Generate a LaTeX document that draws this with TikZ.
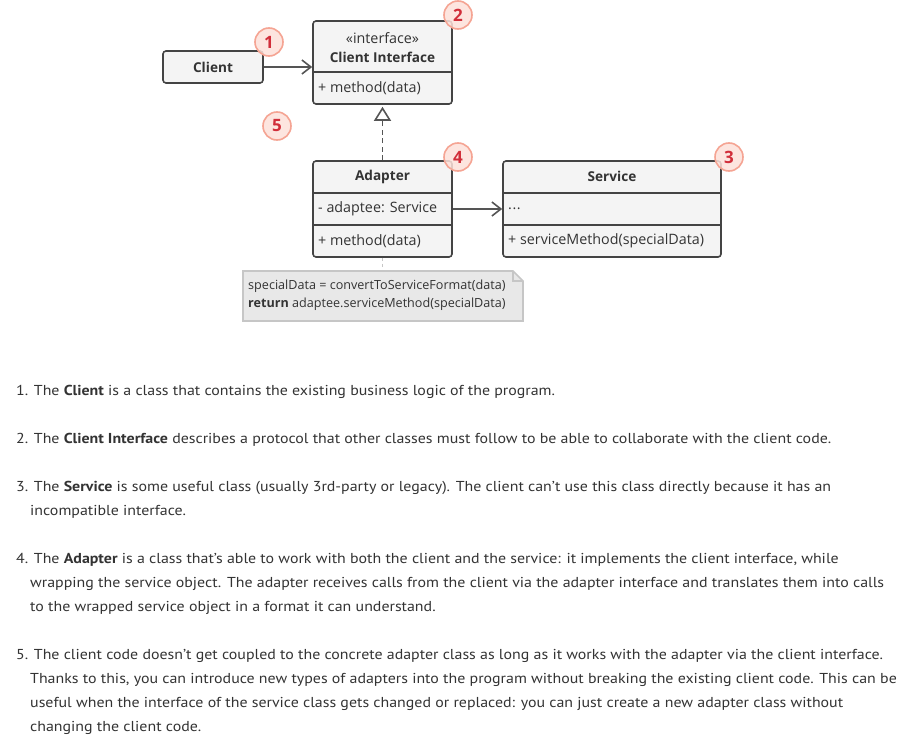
\documentclass[tikz,border=0pt]{standalone}
\usepackage{fontspec}
\setmainfont[FakeStretch=1.105]{PT Sans}
\newfontfamily\dfont{Open Sans}
\usetikzlibrary{arrows.meta}
\definecolor{bord}{HTML}{444444}
\definecolor{boxfill}{HTML}{F4F4F4}
\definecolor{txt}{HTML}{333333}
\definecolor{lnk}{HTML}{555555}
\definecolor{badgefill}{HTML}{FDE1DA}
\definecolor{badgeline}{HTML}{F5A493}
\definecolor{badgetxt}{HTML}{D12E3A}
\definecolor{notefill}{HTML}{E8E8E8}
\definecolor{noteline}{HTML}{C6C6C6}
\tikzset{
  box/.style={draw=bord, line width=1.6pt, fill=boxfill, rounded corners=3pt, inner sep=0pt},
  divider/.style={draw=bord, line width=1.6pt},
  lbl/.style={font=\dfont\fontsize{14.3}{16}\selectfont, text=txt, inner sep=0pt},
  lblB/.style={lbl, font=\dfont\bfseries\fontsize{13.6}{16}\selectfont},
  lblL/.style={lbl, anchor=west},
  assoc/.style={draw=lnk, line width=1.6pt, -{Straight Barb[length=9pt,width=14pt,line width=1.6pt]}},
  realize/.style={draw=lnk, line width=1.6pt, dash pattern=on 5pt off 3.5pt, -{Triangle[open,length=14pt,width=17pt,line width=1.6pt]}, shorten >=2pt},
  notelink/.style={draw=noteline, line width=1.6pt, dash pattern=on 3pt off 3pt},
  badge/.style={circle, draw=badgeline, line width=1.6pt, fill=badgefill, fill opacity=0.85, text opacity=1, minimum size=28pt, inner sep=0pt, text=badgetxt, font=\dfont\bfseries\fontsize{17}{18}\selectfont},
  para/.style={anchor=base west, inner sep=0pt, text=txt, font=\fontsize{14.4}{17}\selectfont},
}
\begin{document}
\begin{tikzpicture}[x=1pt,y=-1pt]
\useasboundingbox[fill=white] (0,0) rectangle (906,750);

% Client
\node[box, minimum width=100pt, minimum height=32pt] (client) at (213,67) {};
\node[lblB] (clientT) at (213,67) {Client};

% Client Interface
\node[box, minimum width=139pt, minimum height=83pt] (ci) at (382.5,62.5) {};
\node[lbl] (ciS) at (382.5,38) {«interface»};
\node[lblB] (ciN) at (382.5,57) {Client Interface};
\draw[divider] (313,72) -- (452,72);
\node[lblL] (ciM) at (318,88) {+ method(data)};

% Adapter
\node[box, minimum width=139pt, minimum height=96pt] (ad) at (382.5,209) {};
\node[lblB] (adN) at (382.5,176.5) {Adapter};
\draw[divider] (313,193) -- (452,193);
\draw[divider] (313,225) -- (452,225);
\node[lblL] (adF) at (318,209) {- adaptee: Service};
\node[lblL] (adM) at (318,241) {+ method(data)};

% Service
\node[box, minimum width=218pt, minimum height=96pt] (sv) at (612,209) {};
\node[lblB] (svN) at (612,176.5) {Service};
\draw[divider] (503,193) -- (721,193);
\draw[divider] (503,225) -- (721,225);
\node[lblL] (svF) at (508,209) {.\kern0.6pt.\kern0.6pt.};
\node[lblL] (svM) at (508,241) {+ serviceMethod(specialData)};

% Note
\path[fill=notefill, draw=noteline, line width=1.6pt]
  (243,271) -- (513,271) -- (523,281) -- (523,321) -- (243,321) -- cycle;
\draw[draw=noteline, line width=1.2pt] (513,271) -- (513,281) -- (523,281);
\node[anchor=north west, inner sep=0pt, align=left, text=txt, font=\dfont\fontsize{12.6}{18}\selectfont] (note) at (248,280)
  {specialData = convertToServiceFormat(data)\\\textbf{return} adaptee.serviceMethod(specialData)};
\coordinate (noteTop) at (382.5,271);

% connectors
\draw[assoc] (client.east) -- (client.east -| ci.west);
\draw[assoc] (adF.east -| ad.east) -- (adF.east -| sv.west);
\draw[realize] (ad.north) -- (ci.south);
\draw[notelink] (ad.south) -- (noteTop);

% badges
\node[badge] (b1) at (269,42) {1};
\node[badge] (b2) at (458,15) {2};
\node[badge] (b5) at (277,126) {5};
\node[badge] (b4) at (458,157) {4};
\node[badge] (b3) at (729,157) {3};

% text
\node[para] (p1) at (16,395) {1. The \textbf{Client} is a class that contains the existing business logic of the program.};
\node[para] (p2) at (16,443) {2. The \textbf{Client Interface} describes a protocol that other classes must follow to be able to collaborate with the client code.};
\node[para] (p3a) at (16,491) {3. The \textbf{Service} is some useful class (usually 3rd-party or legacy). The client can’t use this class directly because it has an};
\node[para] (p3b) at (30,515) {incompatible interface.};
\node[para] (p4a) at (16,563) {4. The \textbf{Adapter} is a class that’s able to work with both the client and the service: it implements the client interface, while};
\node[para] (p4b) at (30,587) {wrapping the service object. The adapter receives calls from the client via the adapter interface and translates them into calls};
\node[para] (p4c) at (30,611) {to the wrapped service object in a format it can understand.};
\node[para] (p5a) at (16,659) {5. The client code doesn’t get coupled to the concrete adapter class as long as it works with the adapter via the client interface.};
\node[para] (p5b) at (30,683) {Thanks to this, you can introduce new types of adapters into the program without breaking the existing client code. This can be};
\node[para] (p5c) at (30,707) {useful when the interface of the service class gets changed or replaced: you can just create a new adapter class without};
\node[para] (p5d) at (30,731) {changing the client code.};
\end{tikzpicture}
\end{document}
